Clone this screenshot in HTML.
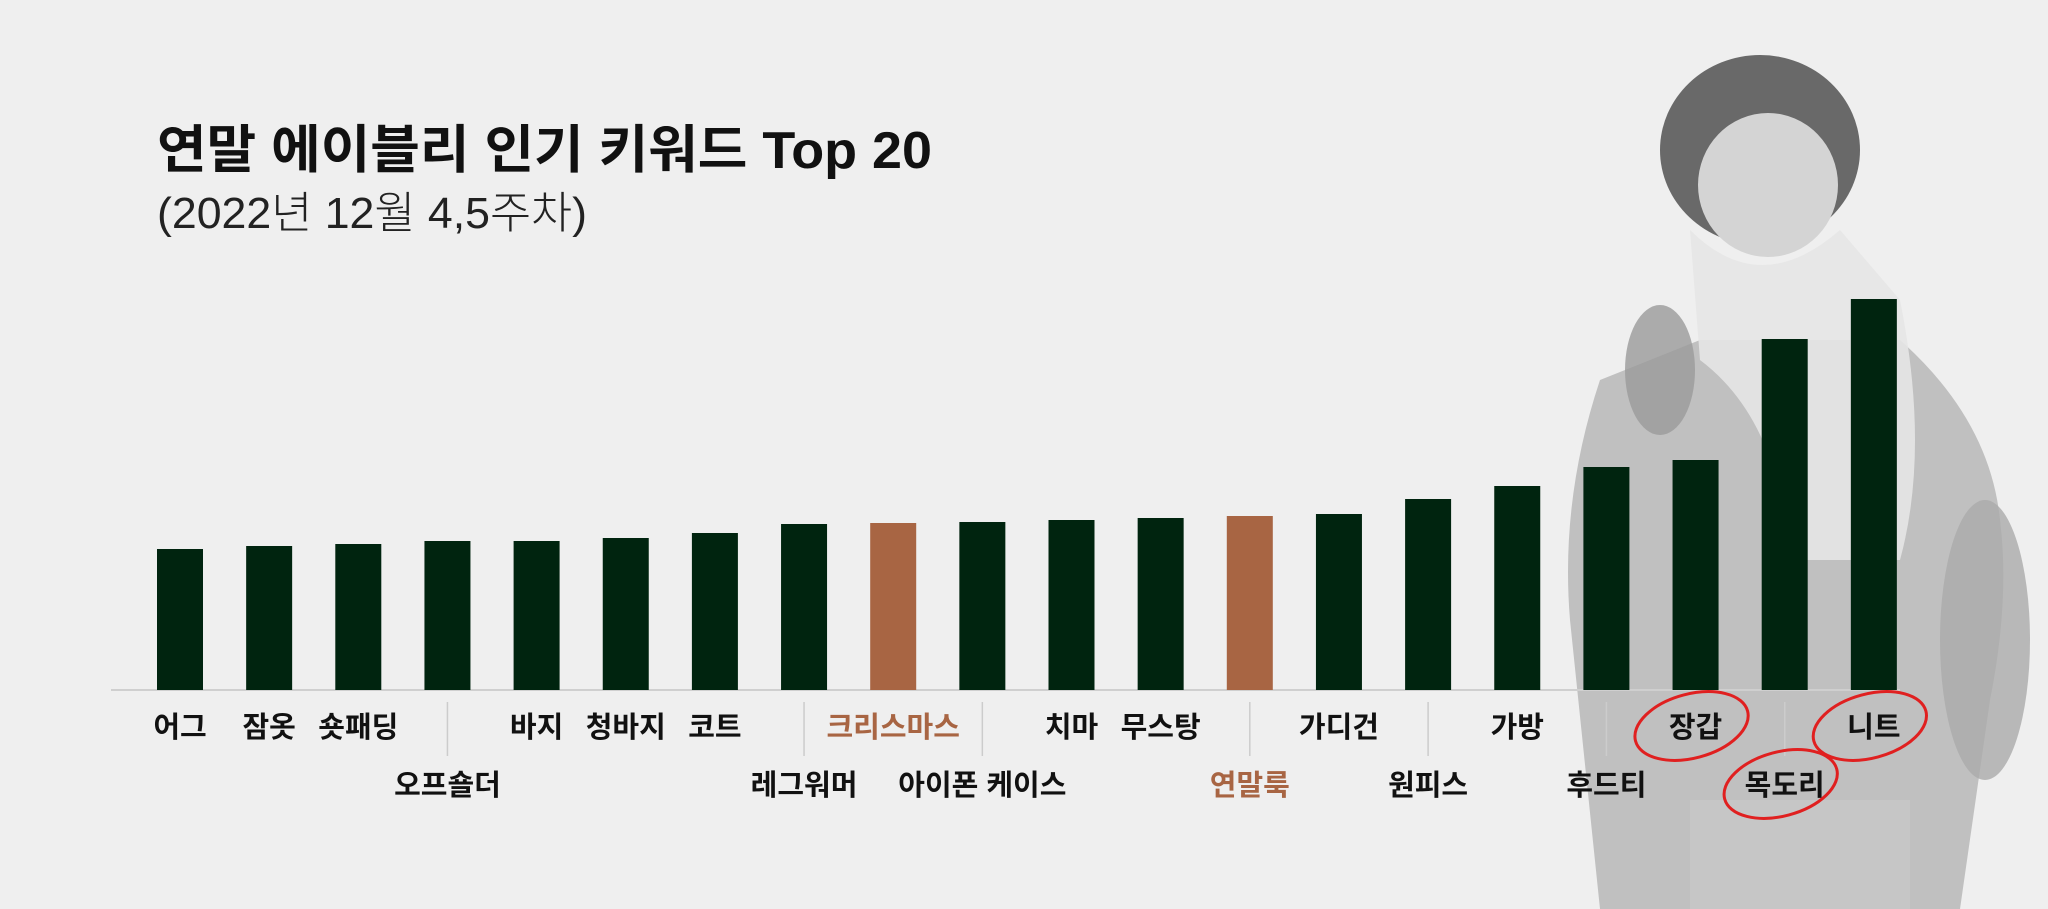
<!DOCTYPE html>
<html><head><meta charset="utf-8">
<style>
html,body{margin:0;padding:0;background:#efefef;}
svg{display:block;}
text{font-family:"Liberation Sans","Noto Sans CJK KR",sans-serif;}
</style></head>
<body>
<svg id="chart" width="2048" height="909" viewBox="0 0 2048 909" xmlns="http://www.w3.org/2000/svg">
  <rect width="2048" height="909" fill="#efefef"/>
  <g>
    <path d="M1600 380 Q1560 500 1570 620 L1600 909 L1960 909 L1990 700 Q2010 600 2000 520 Q1990 420 1900 340 L1700 340 Z" fill="#b4b4b4" opacity="0.8"/>
    <path d="M1690 230 Q1760 300 1840 230 L1900 300 Q1930 450 1900 560 L1790 560 Q1780 420 1700 360 Z" fill="#e6e6e6" opacity="0.9"/>
    <ellipse cx="1760" cy="150" rx="100" ry="95" fill="#5a5a5a" opacity="0.9"/>
    <ellipse cx="1768" cy="185" rx="70" ry="72" fill="#d4d4d4"/>
    <ellipse cx="1660" cy="370" rx="35" ry="65" fill="#9a9a9a" opacity="0.8"/>
    <ellipse cx="1985" cy="640" rx="45" ry="140" fill="#aaaaaa" opacity="0.8"/>
    <rect x="1690" y="800" width="220" height="109" fill="#c6c6c6"/>
  </g>
  <text x="157" y="168" font-size="52" font-weight="700" fill="#111" textLength="775" lengthAdjust="spacingAndGlyphs">연말 에이블리 인기 키워드 Top 20</text>
  <text x="157" y="228" font-size="44" font-weight="300" fill="#222" textLength="430" lengthAdjust="spacingAndGlyphs">(2022년 12월 4,5주차)</text>
  <line x1="111" y1="690" x2="1900" y2="690" stroke="#cfcfcf" stroke-width="2"/>
  <g id="bars"></g>
  <g id="labels"></g>
  <g id="seps"></g>
  <g id="circles" fill="none" stroke="#e02020" stroke-width="3"></g>
</svg>
<script>
const categories = ["어그","잠옷","숏패딩","오프숄더","바지","청바지","코트","레그워머","크리스마스","아이폰 케이스","치마","무스탕","연말룩","가디건","원피스","가방","후드티","장갑","목도리","니트"];
const values = [141,144,146,149,149,152,157,166,167,168,170,172,174,176,191,204,223,230,351,391];
const highlighted = [8,12];
const circled = [17,18,19];
const secondRow = [3,7,9,12,14,16,18];
const NS = "http://www.w3.org/2000/svg";
const baseY = 690, x0 = 157, pitch = 89.15, bw = 46, yScale = 1;
function xPos(i){ return x0 + i*pitch; }
function yPos(v){ return baseY - v*yScale; }
const gb = document.getElementById('bars'), gl = document.getElementById('labels'), gs = document.getElementById('seps'), gc = document.getElementById('circles');
categories.forEach((c,i)=>{
  const r = document.createElementNS(NS,'rect');
  r.setAttribute('x', xPos(i)); r.setAttribute('y', yPos(values[i]));
  r.setAttribute('width', bw); r.setAttribute('height', baseY - yPos(values[i]));
  r.setAttribute('fill', highlighted.includes(i) ? '#a86543' : '#00240f');
  
  
  gb.appendChild(r);
  const cx = xPos(i) + bw/2;
  const row2 = secondRow.includes(i);
  const t = document.createElementNS(NS,'text');
  t.setAttribute('x', cx); t.setAttribute('y', row2 ? 795 : 737);
  t.setAttribute('text-anchor','middle'); t.setAttribute('font-size','29'); t.setAttribute('font-weight','700');
  t.setAttribute('fill', highlighted.includes(i) ? '#a86543' : '#111');
  t.textContent = c;
  
  
  gl.appendChild(t);
  if (row2) {
    const l = document.createElementNS(NS,'line');
    l.setAttribute('x1', cx); l.setAttribute('x2', cx); l.setAttribute('y1', 702); l.setAttribute('y2', 756);
    l.setAttribute('stroke', '#cccccc'); l.setAttribute('stroke-width', '1.5');
    
    
    gs.appendChild(l);
  }
  if (circled.includes(i)) {
    const cy = row2 ? 784 : 726;
    const e = document.createElementNS(NS,'ellipse');
    e.setAttribute('cx', cx - 4); e.setAttribute('cy', cy);
    e.setAttribute('rx', 58); e.setAttribute('ry', 32);
    e.setAttribute('transform', 'rotate(-15 ' + (cx-4) + ' ' + cy + ')');
    
    
    gc.appendChild(e);
  }
});
</script>
</body></html>
